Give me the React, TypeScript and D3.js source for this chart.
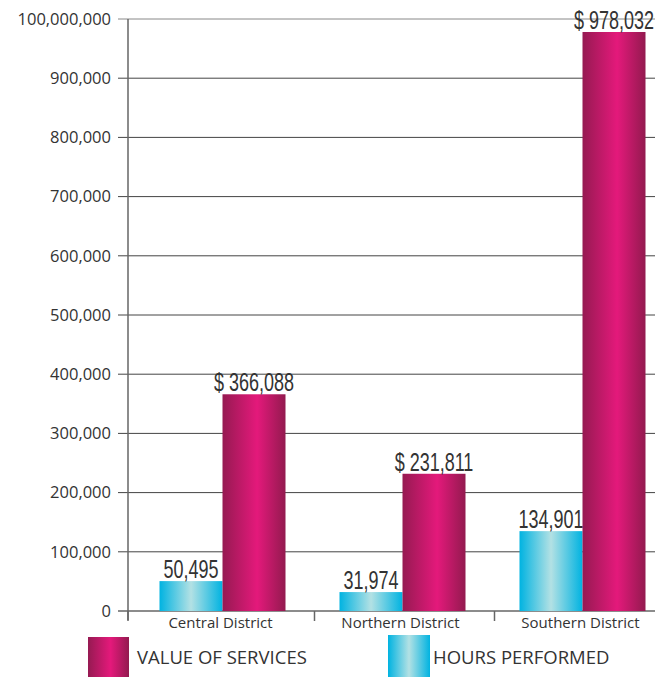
import React from 'react';
import * as d3 from 'd3';

const districts = ['Central District', 'Northern District', 'Southern District'];
const hoursPerformed = [50495, 31974, 134901];
const valueOfServices = [366088, 231811, 978032];
const yTicks = [0, 100000, 200000, 300000, 400000, 500000, 600000, 700000, 800000, 900000, 1000000];
const yTickLabels = ['0', '100,000', '200,000', '300,000', '400,000', '500,000', '600,000', '700,000', '800,000', '900,000', '100,000,000'];

const W = 662;
const H = 677;
const left = 128;
const gridRight = 655;
const top = 19;
const bottom = 611;

const App: React.FC = () => {
  const x = d3.scaleBand<string>().domain(districts).range([134.5, 674.5]).padding(0);
  const y = d3.scaleLinear().domain([0, 1000000]).range([bottom, top]);
  const groupW = 126;
  const inner = d3.scaleBand<string>().domain(['hours', 'value']).range([0, groupW]).padding(0);
  const fmt = d3.format(',');
  const tickFont = "'Open Sans', sans-serif";
  const labelFont = "'Liberation Sans', Arial, sans-serif";

  const bars = districts.flatMap((d, i) => {
    const gx = (x(d) ?? 0) + x.bandwidth() / 2 - groupW / 2 - 2;
    return [
      { key: d + 'h', x: gx + (inner('hours') ?? 0), v: hoursPerformed[i], fill: 'url(#gradCyan)', label: fmt(hoursPerformed[i]) },
      { key: d + 'v', x: gx + (inner('value') ?? 0), v: valueOfServices[i], fill: 'url(#gradMag)', label: '$ ' + fmt(valueOfServices[i]) },
    ];
  });

  const catTicks = [left, ...districts.slice(1).map((d) => x(d) ?? 0)];

  return (
    <svg width={W} height={H} style={{ position: 'absolute', left: 0, top: 0 }}>
      <defs>
        <linearGradient id="gradCyan" x1="0" x2="1" y1="0" y2="0">
          <stop offset="0" stopColor="#00b3e1" />
          <stop offset="0.5" stopColor="#b3e1e4" />
          <stop offset="1" stopColor="#00b3e1" />
        </linearGradient>
        <linearGradient id="gradMag" x1="0" x2="1" y1="0" y2="0">
          <stop offset="0" stopColor="#961a52" />
          <stop offset="0.55" stopColor="#e4197b" />
          <stop offset="1" stopColor="#931a4f" />
        </linearGradient>
      </defs>
      <rect width={W} height={H} fill="#fff" />
      {yTicks.map((t, i) => (
        <g key={t}>
          <line x1={118} x2={gridRight} y1={y(t)} y2={y(t)} stroke={i === 10 ? '#888' : i === 0 ? '#666' : '#444'} strokeWidth={i === 0 ? 1.5 : 1} />
          <text x={111} y={y(t)} dy="0.35em" textAnchor="end" fontFamily={tickFont} fontSize={16.5} fill="#333">
            {yTickLabels[i]}
          </text>
        </g>
      ))}
      <line x1={left} x2={left} y1={top} y2={620} stroke="#666" strokeWidth={1.5} />
      {catTicks.map((cx, i) => (
        <line key={i} x1={cx} x2={cx} y1={bottom} y2={621} stroke="#666" strokeWidth={1.5} />
      ))}
      {bars.map((b) => (
        <g key={b.key}>
          <rect x={b.x} y={y(b.v)} width={inner.bandwidth()} height={bottom - y(b.v)} fill={b.fill} />
          <text
            transform={`translate(${b.x + inner.bandwidth() / 2},${y(b.v) - 3}) scale(0.72,1)`}
            textAnchor="middle"
            fontFamily={labelFont}
            fontSize={25}
            fill="#333"
          >
            {b.label}
          </text>
        </g>
      ))}
      {districts.map((d) => (
        <text key={d} x={(x(d) ?? 0) + x.bandwidth() / 2 - 4} y={628} textAnchor="middle" fontFamily={tickFont} fontSize={15} fill="#333">
          {d}
        </text>
      ))}
      <rect x={88} y={637} width={41} height={40} fill="url(#gradMag)" />
      <text x={137} y={664} fontFamily={tickFont} fontSize={18.5} fill="#333">VALUE OF SERVICES</text>
      <rect x={388} y={635} width={42} height={42} fill="url(#gradCyan)" />
      <text x={433} y={664} fontFamily={tickFont} fontSize={18.5} fill="#333">HOURS PERFORMED</text>
    </svg>
  );
};

export default App;
